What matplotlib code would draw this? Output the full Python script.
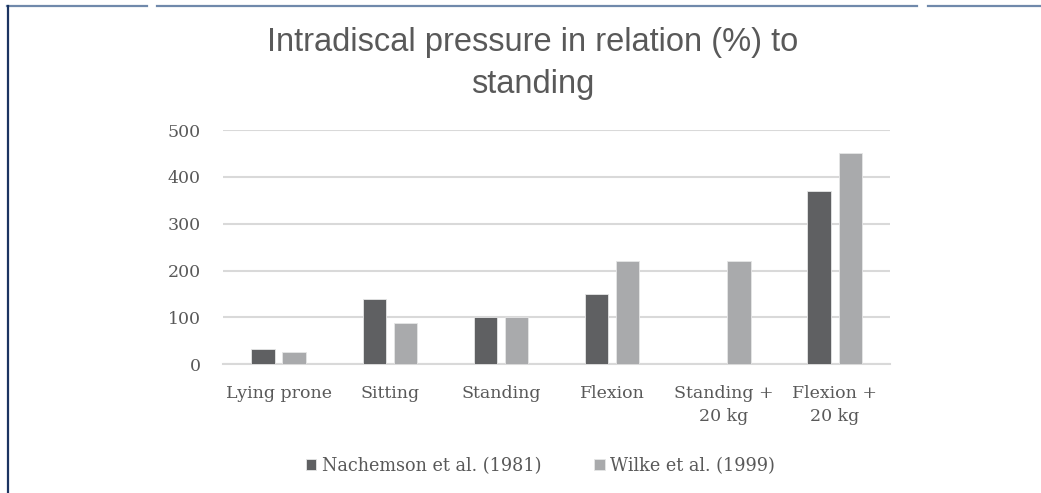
import numpy as np
import matplotlib.pyplot as plt
from matplotlib.lines import Line2D

categories = ['Lying prone', 'Sitting', 'Standing', 'Flexion', 'Standing +\n20 kg', 'Flexion +\n20 kg']
nachemson = [32, 140, 100, 150, 0, 370]
wilke = [27, 88, 100, 220, 220, 450]
series_names = ['Nachemson et al. (1981)', 'Wilke et al. (1999)']
yticks = [0, 100, 200, 300, 400, 500]

dark = '#5f6062'
light = '#a9aaac'
grid_col = '#d9d9d9'
text_col = '#595959'
serif = 'DejaVu Serif'

fig = plt.figure(figsize=(10.41, 4.93), dpi=100)
ax = fig.add_axes([0.2142, 0.261, 0.641, 0.4753])

x = np.arange(len(categories))
w = 0.21
gap = 0.07
off = (w + gap) / 2
b1 = ax.bar(x - off, nachemson, w, color=dark, edgecolor='#e6e6e6', linewidth=0.6, label=series_names[0], zorder=3)
b2 = ax.bar(x + off, wilke, w, color=light, edgecolor='#e6e6e6', linewidth=0.6, label=series_names[1], zorder=3)

ax.set_xlim(-0.5, len(categories) - 0.5)
ax.set_ylim(0, 500)
ax.set_yticks(yticks)
ax.yaxis.grid(True, color=grid_col, linewidth=1.5, zorder=0)
for s in ['top', 'right', 'left']:
    ax.spines[s].set_visible(False)
ax.spines['bottom'].set_color(grid_col)
ax.spines['bottom'].set_linewidth(1.5)
ax.tick_params(axis='both', length=0, colors=text_col, labelsize=12.5)
ax.tick_params(axis='y', pad=16)
ax.tick_params(axis='x', pad=15)
ax.set_xticks(x)
ax.set_xticklabels(categories, fontfamily=serif, linespacing=1.45)
for lab in ax.get_yticklabels():
    lab.set_fontfamily(serif)

fig.text(0.512, 0.914, 'Intradiscal pressure in relation (%) to', ha='center', va='center',
         fontsize=23.5, color=text_col, family='Liberation Sans')
fig.text(0.512, 0.829, 'standing', ha='center', va='center',
         fontsize=23.5, color=text_col, family='Liberation Sans')

leg = fig.legend(handles=[b1, b2], loc='center', bbox_to_anchor=(0.519, 0.055), ncol=2,
                 frameon=False, handlelength=0.6, handleheight=0.6,
                 handletextpad=0.3, columnspacing=3.0, prop={'family': serif, 'size': 12.7})
for t in leg.get_texts():
    t.set_color(text_col)

# page frame remnants
top_y = 1 - 6 / 493
for x0, x1 in [(7, 147), (157, 917), (928, 1041)]:
    fig.add_artist(Line2D([x0 / 1041, x1 / 1041], [top_y, top_y], color='#7089ab', linewidth=1.6))
fig.add_artist(Line2D([7.5 / 1041, 7.5 / 1041], [0, top_y], color='#1c3461', linewidth=1.6))

fig.savefig('out.png', dpi=100)
